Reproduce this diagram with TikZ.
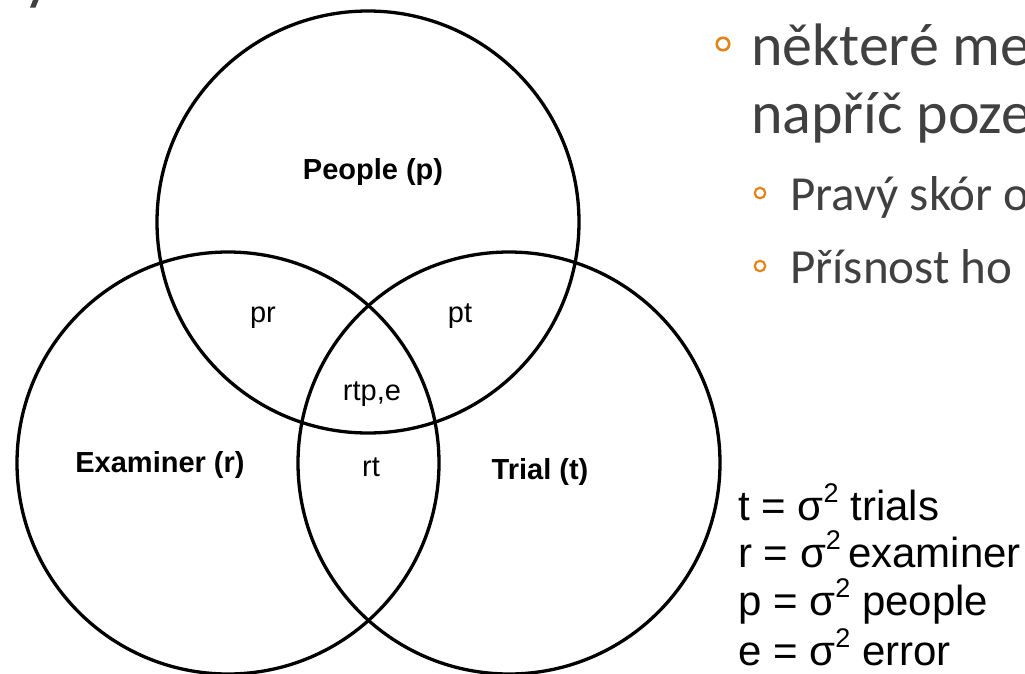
\documentclass[tikz,border=0pt]{standalone}
\usepackage{fontspec}
\setmainfont{Liberation Sans}
\newfontfamily\calfont{Carlito}
\definecolor{txtgray}{RGB}{64,64,64}
\definecolor{bulorange}{RGB}{228,131,24}
\begin{document}
\begin{tikzpicture}[x=1pt,y=-1pt,
  vcirc/.style={circle,draw=black,line width=3.3pt,minimum size=422pt,inner sep=0pt},
  boldlbl/.style={anchor=base,inner sep=0pt,font=\fontsize{29}{34}\selectfont\bfseries},
  reglbl/.style={anchor=base,inner sep=0pt,font=\fontsize{29}{34}\selectfont},
  legline/.style={anchor=base west,inner sep=0pt,font=\fontsize{42}{48}\selectfont},
  mainline/.style={anchor=base west,inner sep=0pt,text=txtgray,font=\calfont\fontsize{60}{70}\selectfont},
  subline/.style={anchor=base west,inner sep=0pt,text=txtgray,font=\calfont\fontsize{49}{58}\selectfont},
  bigbullet/.style={circle,draw=bulorange,line width=2.6pt,minimum size=12.5pt,inner sep=0pt},
  smallbullet/.style={circle,draw=bulorange,line width=2.2pt,minimum size=10.5pt,inner sep=0pt}]
\useasboundingbox (0,0) rectangle (1025,673);
\clip (0,0) rectangle (1025,673);
\fill[white] (0,0) rectangle (1025,673);
% cut-off glyph fragment at top left
\fill[txtgray] (30,7.5) -- (35.5,7.5) -- (38.5,0) -- (33,0) -- cycle;
% Venn circles
\node[vcirc] (P) at (368,222) {};
\node[vcirc] (R) at (228,463) {};
\node[vcirc] (T) at (509,463) {};
% labels
\node[boldlbl] (lp) at (373,179) {People (p)};
\node[boldlbl] (lr) at (160,472) {Examiner (r)};
\node[boldlbl] (lt) at (540,479) {Trial (t)};
\node[reglbl] (lpr) at (263,322) {pr};
\node[reglbl] (lpt) at (460,322) {pt};
\node[reglbl] (lrtp) at (372,400) {rtp,e};
\node[reglbl] (lrt) at (371,476) {rt};
% legend
\newcommand{\sqsup}{\raisebox{0.42em}{\fontsize{27}{27}\selectfont 2}}
\node[legline] (g1) at (738,520) {t = σ\sqsup\ trials};
\node[legline] (g2) at (738,567) {r = σ\sqsup\,examiner};
\node[legline] (g3) at (738,615) {p = σ\sqsup\ people};
\node[legline] (g4) at (738,665) {e = σ\sqsup\ error};
% right text
\node[bigbullet] (b1) at (723,44) {};
\node[mainline] (m1) at (751,65) {některé me};
\node[mainline] (m2) at (751,133) {napříč poze};
\node[smallbullet] (b2) at (760,193) {};
\node[subline] (s1) at (790,210) {Pravý skór o};
\node[smallbullet] (b3) at (760,266) {};
\node[subline] (s2) at (790,283) {Přísnost ho};
\end{tikzpicture}
\end{document}
